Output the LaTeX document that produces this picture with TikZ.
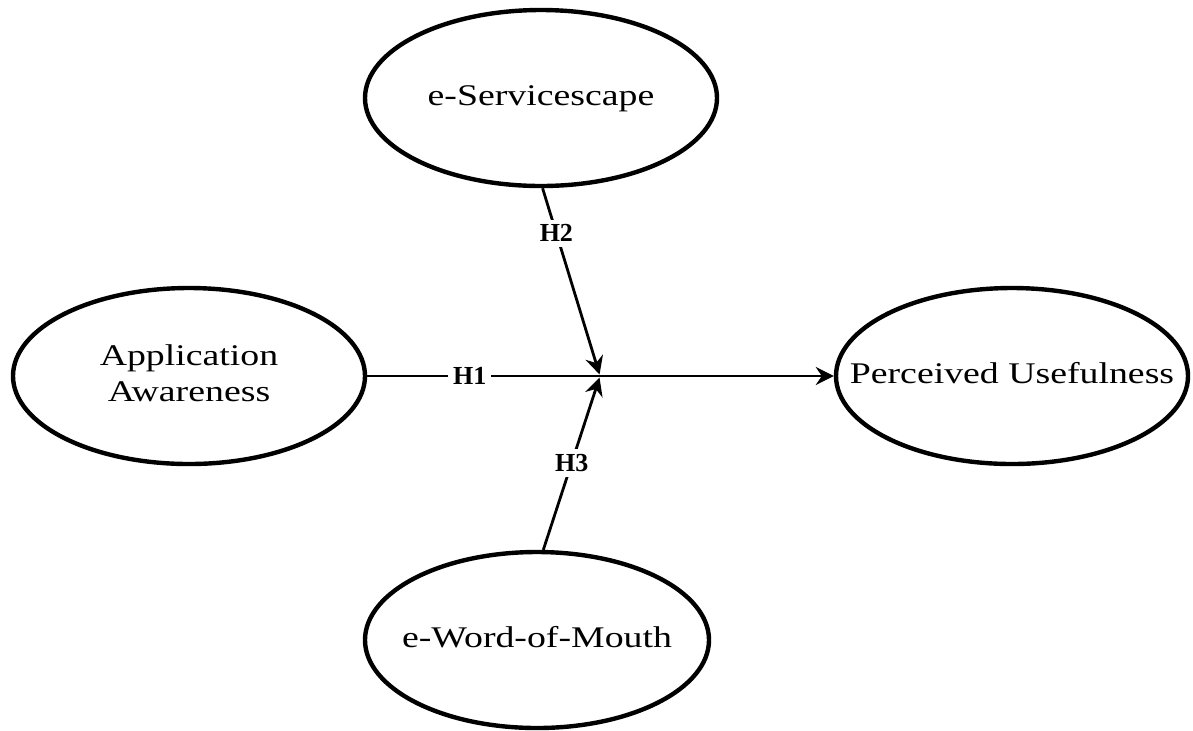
\documentclass[tikz,border=0pt]{standalone}
\usepackage{fontspec}
\setmainfont{Liberation Serif}
\usetikzlibrary{shapes.geometric,arrows.meta}

% construct label: widened serif text, centred lines, taking no width
% so that every ellipse keeps the same fixed size
\newcommand{\conlabel}[1]{\makebox[0pt]{\scalebox{1.26}[1]{\begin{tabular}{@{}c@{}}#1\end{tabular}}}}

\tikzset{
  construct/.style={ellipse, draw, line width=2.2pt, minimum width=176pt,
    minimum height=88pt, inner sep=0pt,
    font=\fontsize{15}{18}\selectfont},
  path link/.style={line width=1.4pt, -{Stealth[length=9pt,width=9pt,inset=3pt]}},
  hyp/.style={fill=white, inner sep=2.5pt, font=\fontsize{13}{15}\selectfont\bfseries},
}

\begin{document}
\begin{tikzpicture}[x=0.5pt, y=-0.5pt]
  \useasboundingbox (0,0) rectangle (1193,730);

  % constructs
  \node[construct] (ES) at (541,98)  {\conlabel{e-Servicescape}};
  \node[construct] (AA) at (189,376) {\conlabel{Application\\Awareness}};
  \node[construct] (PU) at (1012,376) {\conlabel{Perceived Usefulness}};
  \node[construct, minimum width=172pt] (WM) at (537,640) {\conlabel{e-Word-of-Mouth}};

  % moderation point on the main path
  \coordinate (J) at (600,376);

  % main effect
  \draw[path link] (AA.east) -- node[hyp, pos=0.22] (H1) {H1} (PU.west);

  % moderating effects
  \draw[path link, shorten >=0.8pt] (ES.-89) -- node[hyp, pos=0.24] (H2) {H2} (J);
  \draw[path link, shorten >=0.8pt] (WM.86) -- node[hyp, pos=0.5] (H3) {H3} (J);
\end{tikzpicture}
\end{document}
